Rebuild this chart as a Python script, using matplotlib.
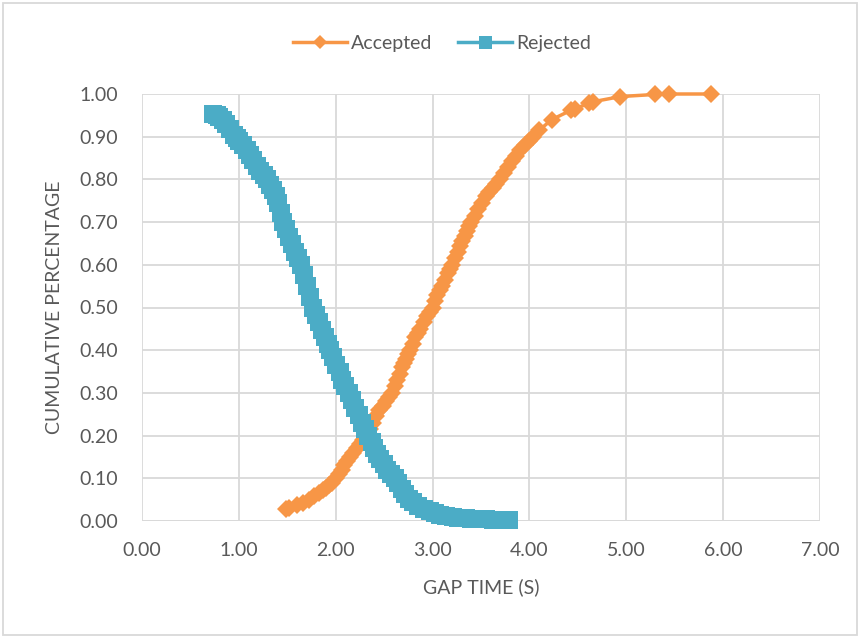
import matplotlib
matplotlib.use("Agg")
from matplotlib import pyplot as plt
from matplotlib.patches import Rectangle

# accepted gaps (orange diamonds)
acc_gap = [1.49, 1.52, 1.60, 1.66, 1.72, 1.78, 1.83, 1.87, 1.90, 1.93, 1.96, 2.00,
           2.03, 2.06, 2.09, 2.12, 2.15, 2.18, 2.22, 2.25, 2.28, 2.32, 2.35, 2.38,
           2.42, 2.45, 2.49, 2.52, 2.55, 2.58, 2.61, 2.63, 2.66, 2.68, 2.71, 2.73,
           2.75, 2.77, 2.80, 2.82, 2.85, 2.87, 2.91, 2.94, 2.97, 3.00, 3.03, 3.05,
           3.08, 3.10, 3.13, 3.16, 3.18, 3.20, 3.23, 3.26, 3.28, 3.30, 3.33, 3.36,
           3.38, 3.40, 3.44, 3.47, 3.51, 3.55, 3.58, 3.62, 3.66, 3.70, 3.74, 3.78,
           3.82, 3.86, 3.90, 3.95, 4.00, 4.04, 4.10, 4.23, 4.43, 4.47, 4.62, 4.66,
           4.94, 5.30, 5.44, 5.87]
acc_cum = [0.027, 0.030, 0.037, 0.043, 0.050, 0.058, 0.066, 0.072, 0.078, 0.084, 0.090, 0.100,
           0.110, 0.120, 0.130, 0.140, 0.150, 0.160, 0.170, 0.180, 0.190, 0.200, 0.215, 0.230,
           0.245, 0.260, 0.270, 0.280, 0.290, 0.300, 0.315, 0.330, 0.345, 0.360, 0.370, 0.380,
           0.390, 0.400, 0.415, 0.430, 0.440, 0.450, 0.465, 0.480, 0.490, 0.500, 0.515, 0.530,
           0.540, 0.550, 0.565, 0.580, 0.590, 0.600, 0.615, 0.630, 0.643, 0.655, 0.668, 0.680,
           0.690, 0.700, 0.715, 0.730, 0.745, 0.760, 0.770, 0.780, 0.790, 0.800, 0.815, 0.830,
           0.843, 0.855, 0.868, 0.880, 0.890, 0.900, 0.915, 0.940, 0.962, 0.966, 0.978, 0.982,
           0.994, 0.999, 1.000, 1.000]

# rejected gaps (blue squares)
rej_gap = [0.73, 0.77, 0.80, 0.84, 0.87, 0.91, 0.95, 0.98, 1.00, 1.04, 1.08, 1.12,
           1.15, 1.19, 1.22, 1.26, 1.29, 1.32, 1.35, 1.38, 1.40, 1.43, 1.46, 1.49,
           1.52, 1.55, 1.58, 1.61, 1.64, 1.67, 1.70, 1.73, 1.77, 1.80, 1.83, 1.86,
           1.89, 1.92, 1.945, 1.97, 2.00, 2.04, 2.07, 2.10, 2.135, 2.17, 2.20, 2.24,
           2.27, 2.30, 2.33, 2.37, 2.40, 2.43, 2.46, 2.50, 2.53, 2.57, 2.61, 2.64,
           2.68, 2.72, 2.76, 2.80, 2.85, 2.91, 2.97, 3.02, 3.08, 3.14, 3.21, 3.26,
           3.30, 3.35, 3.40, 3.48, 3.55, 3.62, 3.69, 3.74, 3.79]
rej_cum = [0.954, 0.950, 0.945, 0.938, 0.930, 0.918, 0.905, 0.897, 0.890, 0.880, 0.870, 0.858,
           0.845, 0.832, 0.820, 0.810, 0.800, 0.788, 0.775, 0.760, 0.745, 0.722, 0.700, 0.683,
           0.665, 0.648, 0.630, 0.615, 0.600, 0.575, 0.550, 0.525, 0.500, 0.483, 0.465, 0.448,
           0.430, 0.415, 0.400, 0.383, 0.365, 0.348, 0.330, 0.315, 0.300, 0.283, 0.265, 0.248,
           0.230, 0.215, 0.200, 0.185, 0.170, 0.158, 0.145, 0.133, 0.120, 0.110, 0.100, 0.088,
           0.075, 0.063, 0.052, 0.044, 0.035, 0.029, 0.024, 0.019, 0.015, 0.012, 0.009, 0.008,
           0.007, 0.006, 0.005, 0.004, 0.004, 0.003, 0.003, 0.003, 0.003]

x_ticks = [0, 1, 2, 3, 4, 5, 6, 7]
y_ticks = [0.0, 0.1, 0.2, 0.3, 0.4, 0.5, 0.6, 0.7, 0.8, 0.9, 1.0]

orange = "#F79646"
blue = "#4BACC6"
grey_txt = "#595959"
grid_col = "#D9D9D9"

plt.rcParams["font.family"] = ["Lato", "DejaVu Sans"]

fig = plt.figure(figsize=(8.59, 6.37), dpi=100)
ax = fig.add_axes([142 / 859, 1 - 521 / 637, (820 - 142) / 859, (521 - 94) / 637])

ax.plot(acc_gap, acc_cum, color=orange, lw=2.5, marker="D", markersize=9.6,
        markeredgewidth=0, label="Accepted", clip_on=False, zorder=3)
ax.plot(rej_gap, rej_cum, color=blue, lw=2.5, marker="s", markersize=13,
        markeredgewidth=0, label="Rejected", clip_on=False, zorder=4)

ax.set_xlim(0, 7)
ax.set_ylim(0, 1)
ax.set_xticks(x_ticks)
ax.set_yticks(y_ticks)
ax.xaxis.set_major_formatter(plt.FormatStrFormatter("%.2f"))
ax.yaxis.set_major_formatter(plt.FormatStrFormatter("%.2f"))
ax.tick_params(length=0, labelsize=14, labelcolor=grey_txt)
ax.tick_params(axis="x", pad=15)
ax.tick_params(axis="y", pad=17)
ax.grid(True, color=grid_col, lw=1.3)
ax.set_axisbelow(True)
for s in ax.spines.values():
    s.set_visible(False)
ax.axhline(0, color=grid_col, lw=1.3, zorder=1)

ax.set_xlabel("GAP TIME (S)", fontsize=14, color=grey_txt, labelpad=14)
ax.set_ylabel("CUMULATIVE PERCENTAGE", fontsize=14, color=grey_txt, labelpad=12)

fig.legend(loc="center", bbox_to_anchor=(442 / 859, 1 - 43 / 637), ncol=2,
           frameon=False, fontsize=14, labelcolor=grey_txt, handlelength=2.8,
           handletextpad=0.2, columnspacing=1.3, markerscale=0.72)

fig.patches.append(Rectangle((2.5 / 859, 2.5 / 637), 854 / 859, 632 / 637,
                             transform=fig.transFigure, fill=False,
                             edgecolor=grid_col, lw=1.3))

fig.savefig("out.png", dpi=100)
